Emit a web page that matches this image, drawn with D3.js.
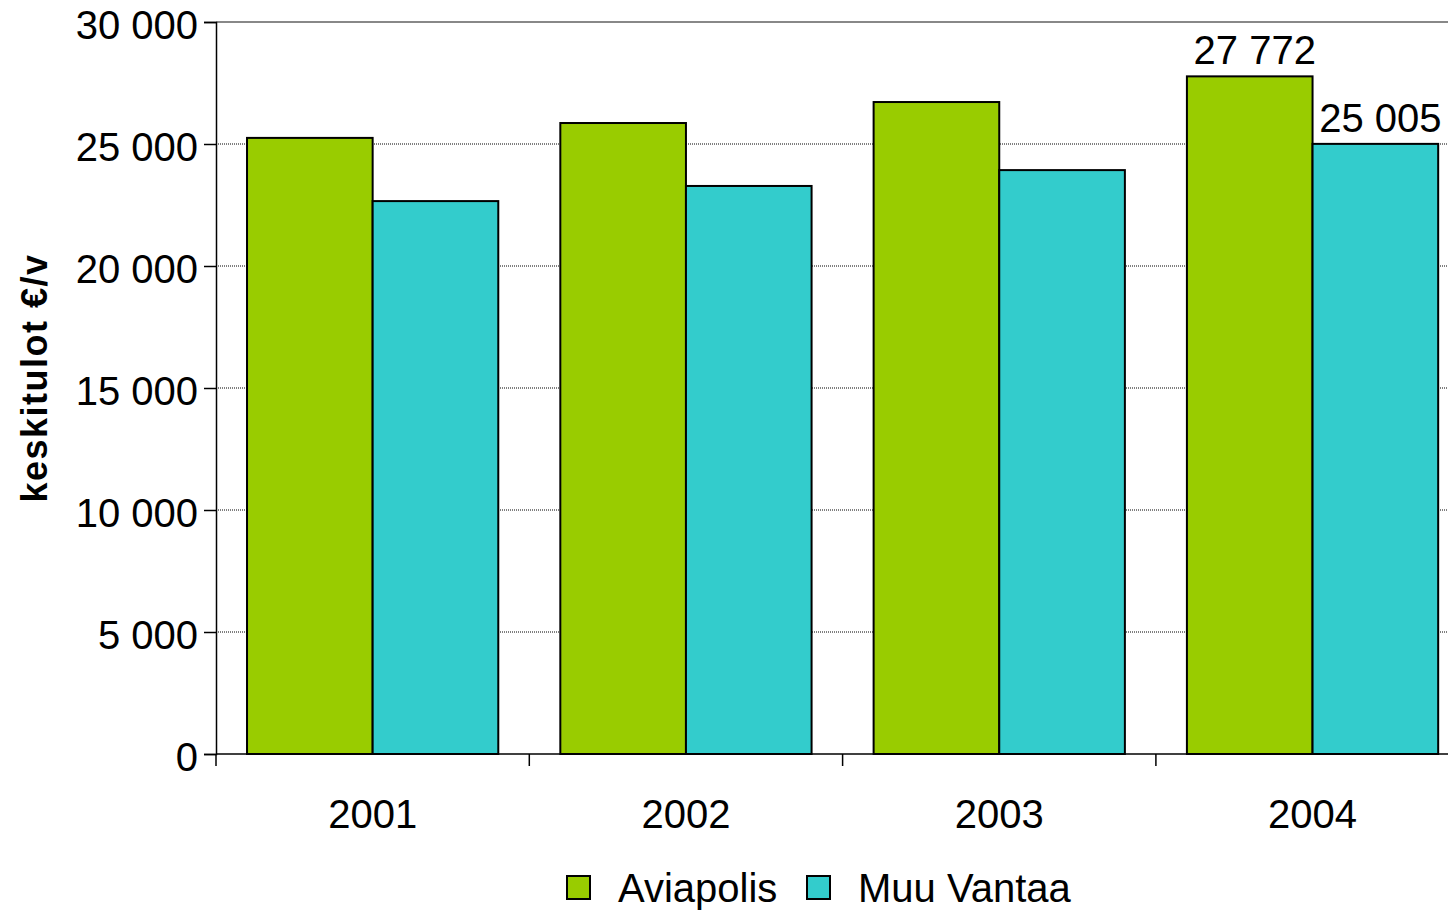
<!DOCTYPE html>
<html><head><meta charset="utf-8">
<script src="https://cdn.jsdelivr.net/npm/d3@7"></script>
<style>body{margin:0;background:#fff;overflow:hidden}text{font-family:"Liberation Sans",Arial,sans-serif}</style>
</head><body>
<svg id="c" width="1448" height="911"></svg>
<script>
const years = ["2001","2002","2003","2004"];
const seriesNames = ["Aviapolis","Muu Vantaa"];
const aviapolis = [25250, 25860, 26720, 27772];
const muuVantaa = [22660, 23280, 23930, 25005];
const yTicks = [0,5000,10000,15000,20000,25000,30000];
const colors = ["#99cc00","#33cccc"];
const labelled = [{s:0,i:3,text:"27 772"},{s:1,i:3,text:"25 005"}];

const svg = d3.select("#c");
const L=216, T=22, B=754, W=313.3*4;
const x = d3.scaleBand().domain(years).range([L, L+W]).paddingInner(0.198).paddingOuter(0.099);
const y = d3.scaleLinear().domain([0,30000]).range([B,T]);
const xs = d3.scaleBand().domain([0,1]).range([0,x.bandwidth()]);
const fmt = v => d3.format(",")(v).replace(/,/g," ");

// gridlines
svg.append("g").selectAll("line").data(yTicks.filter(v=>v>0&&v<30000)).join("line")
  .attr("x1",L).attr("x2",1448).attr("y1",d=>y(d)).attr("y2",d=>y(d))
  .attr("stroke","#000").attr("stroke-width",1).attr("stroke-dasharray","1,1");
svg.append("line").attr("x1",L).attr("x2",1448).attr("y1",y(30000)).attr("y2",y(30000))
  .attr("stroke","#888").attr("stroke-width",2);

// bars
const data = [aviapolis, muuVantaa];
data.forEach((arr,s)=>{
  svg.append("g").selectAll("rect").data(arr).join("rect")
    .attr("x",(d,i)=>x(years[i])+xs(s)).attr("width",xs.bandwidth())
    .attr("y",d=>y(d)).attr("height",d=>B-y(d))
    .attr("fill",colors[s]).attr("stroke","#000").attr("stroke-width",2);
});

// y axis
const ya = svg.append("g").attr("transform",`translate(${L},0)`)
  .call(d3.axisLeft(y).tickValues(yTicks).tickFormat(fmt).tickSize(12).tickPadding(6));
ya.select(".domain").attr("stroke","#000").attr("stroke-width",1.5);
ya.selectAll("line").attr("stroke","#000").attr("stroke-width",1.5);
ya.selectAll("text").attr("font-size",40).attr("fill","#000").attr("dy","0.42em");

// x axis
const xa = svg.append("g").attr("transform",`translate(0,${B})`);
xa.append("line").attr("x1",L).attr("x2",1448).attr("stroke","#000").attr("stroke-width",1.5);
const bounds = [0,1,2,3,4].map(i=>L+i*W/4);
xa.selectAll("line.t").data(bounds).join("line").attr("class","t")
  .attr("x1",d=>d).attr("x2",d=>d).attr("y1",0).attr("y2",12).attr("stroke","#000").attr("stroke-width",1.5);
xa.selectAll("text").data(years).join("text")
  .attr("x",d=>x(d)+x.bandwidth()/2).attr("y",74).attr("text-anchor","middle")
  .attr("font-size",40).attr("fill","#000").text(d=>d);

// data labels
svg.append("g").selectAll("text").data(labelled).join("text")
  .attr("x",d=>x(years[d.i])+xs(d.s)+xs.bandwidth()/2+5)
  .attr("y",d=>y(data[d.s][d.i])-12).attr("text-anchor","middle")
  .attr("font-size",40).attr("fill","#000").text(d=>d.text);

// y title
svg.append("text").attr("transform","translate(47,378) rotate(-90)")
  .attr("text-anchor","middle").attr("font-size",36).attr("font-weight","bold")
  .attr("letter-spacing",1.5).text("keskitulot €/v");

// legend
const lg = svg.append("g");
const lx = [567, 807];
seriesNames.forEach((n,i)=>{
  lg.append("rect").attr("x",lx[i]).attr("y",876).attr("width",23).attr("height",23)
    .attr("fill",colors[i]).attr("stroke","#000").attr("stroke-width",2);
  lg.append("text").attr("x",lx[i]+51).attr("y",902).attr("font-size",40).text(n);
});
</script>
</body></html>
